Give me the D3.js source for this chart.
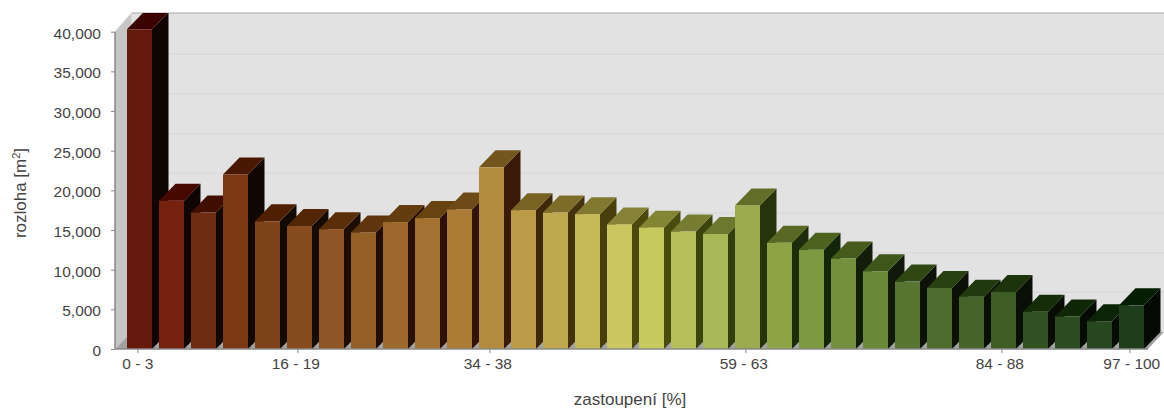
<!DOCTYPE html>
<html>
<head>
<meta charset="utf-8">
<title>rozloha podle zastoupení</title>
<script src="https://cdnjs.cloudflare.com/ajax/libs/d3/7.8.5/d3.min.js"></script>
<style>
  html, body { margin: 0; padding: 0; background: #fff; }
  svg { display: block; }
  text { font-family: "Liberation Sans", Arial, sans-serif; fill: #444; }
</style>
</head>
<body>
<svg id="chart" width="1164" height="408"></svg>
<script>
// Area per class of representation, one bar per class
const categories = ["0 - 3","3 - 6","6 - 9","9 - 13","13 - 16","16 - 19","19 - 22","22 - 25",
  "25 - 28","28 - 31","31 - 34","34 - 38","38 - 41","41 - 44","44 - 47","47 - 50",
  "50 - 53","53 - 56","56 - 59","59 - 63","63 - 66","66 - 69","69 - 72","72 - 75",
  "75 - 78","78 - 81","81 - 84","84 - 88","88 - 91","91 - 94","94 - 97","97 - 100"];
const areas = [40300,18700,17200,22000,16100,15500,15100,14700,
  16000,16500,17600,22900,17500,17200,17000,15700,
  15300,14800,14500,18100,13400,12500,11400,9800,
  8500,7700,6600,7200,4700,4100,3500,5500];
const frontColors = ["#651a0c","#74210f","#6e2c12","#7a3815","#804319","#874b1e","#8f5524","#955f28",
  "#9c682c","#a37130","#ab7c35","#b28b3e","#b99c45","#bfa94f","#c5b958","#cac660",
  "#c6c95c","#b5bf5a","#a9b857","#9aaa4c","#8ea246","#7e9a40","#75903c","#6a8a3a",
  "#587632","#4d6c2d","#456429","#3d5c26","#325223","#2d4c21","#274720","#1f3e1c"];
const yTicks = [0,5000,10000,15000,20000,25000,30000,35000,40000];
const xTickLabels = ["0 - 3","16 - 19","34 - 38","59 - 63","84 - 88","97 - 100"];

const svg = d3.select("#chart");

// Plot frame and the oblique offset of the 3D projection
const plot = { left: 115, right: 1148, bottom: 349, top: 31.7, ceiling: 13, edge: 1164 };
const depth = { dx: 16.5, dy: -17 };

const x = d3.scaleBand().domain(categories).range([123.5, 1147.5])
  .paddingInner(7 / 32).paddingOuter(3.5 / 32);
const y = d3.scaleLinear().domain([0, 40000]).range([plot.bottom, plot.top]);

const pts = a => a.map(p => p.join(",")).join(" ");

// Walls and floor
const wallX = plot.left + depth.dx, wallBottom = plot.bottom + depth.dy;
svg.append("rect").attr("x", wallX).attr("y", plot.ceiling)
  .attr("width", plot.edge - wallX).attr("height", wallBottom - plot.ceiling).attr("fill", "#e2e2e2");
svg.append("polygon").attr("fill", "#c6c6c6")
  .attr("points", pts([[plot.left, plot.bottom], [wallX, wallBottom], [wallX, plot.ceiling], [plot.left, plot.top]]));
svg.append("polygon").attr("fill", "#a2a2a2")
  .attr("points", pts([[plot.left, plot.bottom], [wallX, wallBottom], [plot.edge, wallBottom], [plot.right, plot.bottom]]));

// Gridlines run along the back wall
svg.append("g").selectAll("line").data(yTicks.slice(1, -1)).join("line")
  .attr("x1", wallX).attr("x2", plot.edge)
  .attr("y1", d => y(d) + depth.dy).attr("y2", d => y(d) + depth.dy)
  .attr("stroke", "#dadada").attr("stroke-width", 1.5);
svg.append("line").attr("x1", wallX).attr("x2", plot.edge).attr("y1", plot.ceiling).attr("y2", plot.ceiling)
  .attr("stroke", "#a8a8a8").attr("stroke-width", 1);
svg.append("line").attr("x1", plot.left).attr("y1", plot.top).attr("x2", wallX).attr("y2", plot.ceiling)
  .attr("stroke", "#d8d8d8").attr("stroke-width", 1);

// Bars are cut off at the ceiling of the plot box
svg.append("clipPath").attr("id", "box").append("rect")
  .attr("x", 0).attr("y", plot.ceiling).attr("width", 1164).attr("height", 408);

const shade = (c, f) => {
  const r = d3.rgb(c);
  return d3.rgb(f(r.r), f(r.g), f(r.b)).formatHex();
};
const topShade = v => Math.max(0, v * 0.75 - 18);
const sideShade = v => Math.max(v * 0.15, v * 0.8 - 85);

const bars = svg.append("g").attr("clip-path", "url(#box)")
  .selectAll("g").data(categories).join("g");

bars.each(function (cat, i) {
  const g = d3.select(this);
  const x0 = x(cat), x1 = x0 + x.bandwidth(), yTop = y(areas[i]), yBase = y(0);
  g.append("polygon").attr("fill", shade(frontColors[i], sideShade))
    .attr("points", pts([[x1, yBase], [x1 + depth.dx, yBase + depth.dy], [x1 + depth.dx, yTop + depth.dy], [x1, yTop]]));
  g.append("polygon").attr("fill", shade(frontColors[i], topShade))
    .attr("points", pts([[x0, yTop], [x0 + depth.dx, yTop + depth.dy], [x1 + depth.dx, yTop + depth.dy], [x1, yTop]]));
  g.append("rect").attr("x", x0).attr("y", yTop)
    .attr("width", x.bandwidth()).attr("height", yBase - yTop).attr("fill", frontColors[i]);
});

// Axes
const yAxis = svg.append("g").attr("transform", `translate(${plot.left},0)`)
  .call(d3.axisLeft(y).tickValues(yTicks).tickFormat(d3.format(",")).tickSize(4).tickPadding(10));
const xAxis = svg.append("g").attr("transform", `translate(-1.7,${plot.bottom})`)
  .call(d3.axisBottom(x).tickValues(xTickLabels).tickSize(4).tickPadding(5));
[yAxis, xAxis].forEach(a => {
  a.select(".domain").remove();
  a.selectAll("line").attr("stroke", "#888");
  a.selectAll("text").attr("font-size", 15.5).style("fill", "#444");
});
yAxis.selectAll("text").attr("y", 1.5);
// End labels sit on their ticks; the inner ones are set slightly to the left
xAxis.selectAll("text").attr("x", d =>
  d === xTickLabels[0] ? 0 : d === xTickLabels[xTickLabels.length - 1] ? 2 : -2);

svg.append("line").attr("x1", plot.left).attr("x2", plot.left).attr("y1", plot.top).attr("y2", plot.bottom)
  .attr("stroke", "#888").attr("stroke-width", 1.5);
svg.append("line").attr("x1", plot.left).attr("x2", plot.right).attr("y1", plot.bottom).attr("y2", plot.bottom)
  .attr("stroke", "#888").attr("stroke-width", 1.5);

// Axis titles
svg.append("text").attr("x", 630).attr("y", 405).attr("text-anchor", "middle")
  .attr("font-size", 17).text("zastoupení [%]");
const yTitle = svg.append("text").attr("transform", "translate(26,193) rotate(-90)")
  .attr("text-anchor", "middle").attr("font-size", 17);
yTitle.append("tspan").text("rozloha [m");
yTitle.append("tspan").attr("font-size", 11).attr("dy", -6).text("2");
yTitle.append("tspan").attr("dy", 6).text("]");
</script>
</body>
</html>
